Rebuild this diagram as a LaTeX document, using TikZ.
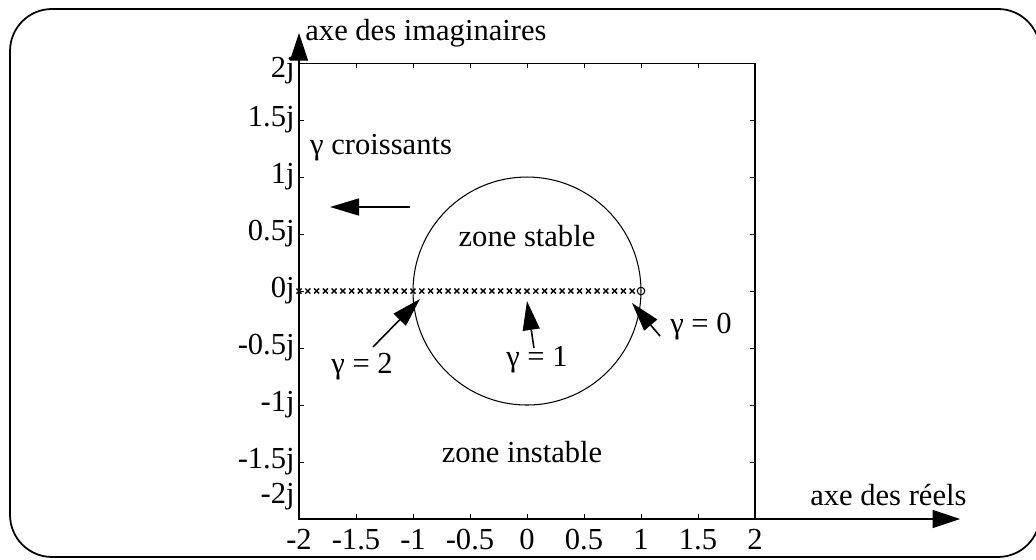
\documentclass[tikz,border=0pt]{standalone}
\usepackage{fontspec}
\setmainfont{Liberation Serif}
\usetikzlibrary{arrows.meta}

\tikzset{
  pointer/.style={line width=0.9pt, -{Triangle[length=0.58cm, width=0.34cm]}},
  axisarrow/.style={line width=0.6pt, -{Triangle[length=0.55cm, width=0.36cm]}},
  lbl/.style={font=\fontsize{17.4}{20}\selectfont, inner sep=0pt},
  xmark/.style={line width=0.8pt},
}

\begin{document}
\begin{tikzpicture}[x=2.28cm, y=2.28cm]
    \useasboundingbox (-4.623,-2.351) rectangle (4.465,2.553);

    % Frame
    \draw[line width=1pt, rounded corners=0.84cm] (-4.535,2.474) rectangle (4.5,-2.333);

    % Plot box
    \draw[line width=0.6pt] (-2,-2) rectangle (2,2);
    \foreach \t in {-1.5,-1,-0.5,0,0.5,1,1.5} {
      \draw[line width=0.5pt] (\t,-2) -- ++(0,0.045);
      \draw[line width=0.5pt] (\t,2) -- ++(0,-0.045);
      \draw[line width=0.5pt] (-2,\t) -- ++(0.045,0);
      \draw[line width=0.5pt] (2,\t) -- ++(-0.045,0);
    }

    % Axes
    \coordinate (ycorner) at (-2,2);
    \coordinate (xcorner) at (2,-2);
    \coordinate (ytip) at (-2,2.263);
    \coordinate (xtip) at (3.80,-2);
    \draw[axisarrow] (ycorner) -- (ytip);
    \draw[axisarrow] (xcorner) -- (xtip);
    \node[lbl, anchor=west] (imlabel) at (-1.947,2.262) {axe des imaginaires};
    \node[lbl] (relabel) at (3.17,-1.79) {axe des réels};

    % Tick labels
    \foreach \t [count=\i] in {-2,-1.5,-1,-0.5,0,0.5,1,1.5,2} {
      \node[lbl] (xt\i) at (\t,-2.18) {\t};
    }
    \foreach \t/\p [count=\i] in {-2/-1.8,-1.5/-1.5,-1/-1,-0.5/-0.5,0/0,0.5/0.5,1/1,1.5/1.5,2/1.93} {
      \node[lbl, anchor=east] (yt\i) at (-2.035,\p) {\t j};
    }

    % Circle and roots
    \draw[line width=0.6pt] (0,0) circle (1);
    \foreach \k in {1,...,39} {
      \draw[xmark] ({1-\k*3/39},0) +(-0.022,-0.022) -- +(0.022,0.022)
                                  +(-0.022,0.022) -- +(0.022,-0.022);
    }
    \draw[line width=0.6pt] (1,0) circle (0.033);

    % Zones
    \node[lbl] (stable) at (0,0.48) {zone stable};
    \node[lbl] (instable) at (-0.044,-1.41) {zone instable};

    % Gamma pointers
    \node[lbl] (croiss) at (-1.28,1.254) {γ croissants};
    \coordinate (cr1) at (-1.026,0.737);
    \coordinate (cr2) at (-1.728,0.737);
    \draw[pointer] (cr1) -- (cr2);

    \node[lbl] (g2) at (-1.447,-0.667) {γ = 2};
    \coordinate (g2tail) at (-1.35,-0.49);
    \coordinate (g2tip) at (-0.939,-0.07);
    \draw[pointer] (g2tail) -- (g2tip);

    \node[lbl] (g1) at (0.088,-0.6) {γ = 1};
    \coordinate (g1tail) at (0.061,-0.5);
    \coordinate (g1tip) at (0,-0.088);
    \draw[pointer] (g1tail) -- (g1tip);

    \node[lbl] (g0) at (1.526,-0.316) {γ = 0};
    \coordinate (g0tail) at (1.167,-0.395);
    \coordinate (g0tip) at (0.921,-0.105);
    \draw[pointer] (g0tail) -- (g0tip);
\end{tikzpicture}
\end{document}
